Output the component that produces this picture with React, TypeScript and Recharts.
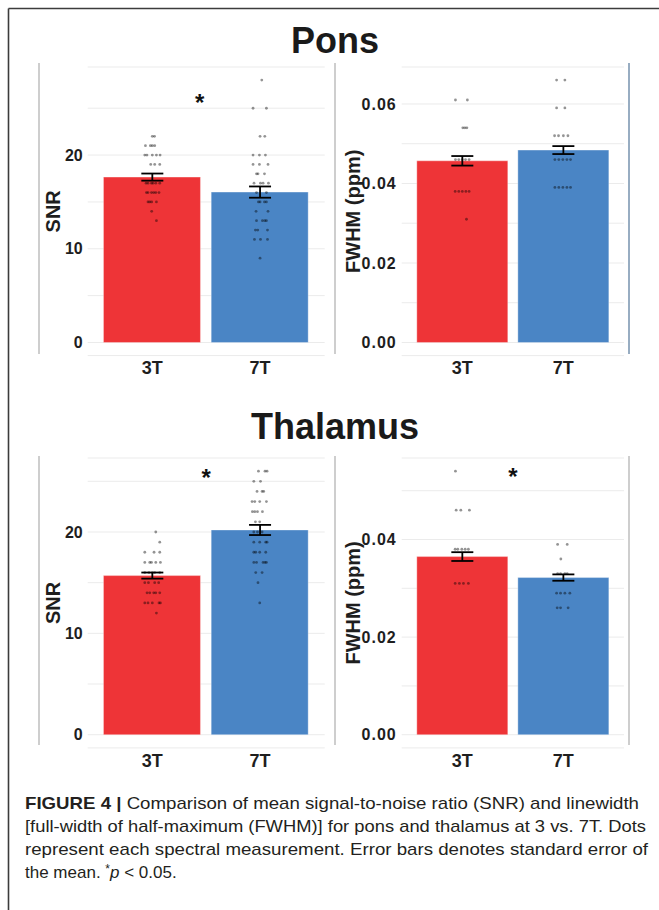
import React from 'react';
import {
  ComposedChart,
  Bar,
  Scatter,
  XAxis,
  YAxis,
  CartesianGrid,
  ErrorBar,
  ReferenceDot,
  Cell,
  Label,
} from 'recharts';

// ---------- data ----------
const groups = ['3T', '7T'];
const groupPos = [1, 2];
const barColors = ['#EE3437', '#4A85C5'];

const ponsSnrMean = [17.65, 16.05];
const ponsSnrSe = [0.38, 0.6];
const ponsFwhmMean = [0.0457, 0.0484];
const ponsFwhmSe = [0.0012, 0.001];
const thalSnrMean = [15.7, 20.2];
const thalSnrSe = [0.3, 0.5];
const thalFwhmMean = [0.0365, 0.0322];
const thalFwhmSe = [0.0009, 0.00065];

// individual measurements: [value, horizontal jitter in category units]
const ponsSnr3T: [number, number][] = [
  [22, 0], [22, 0.02],
  [21, -0.064], [21, -0.018], [21, 0], [21, 0.022],
  [20, -0.07], [20, -0.05], [20, 0], [20, 0.038], [20, 0.072],
  [19, -0.015], [19, 0.022], [19, 0.069],
  [17, -0.058], [17, -0.04], [17, -0.008], [17, 0.006], [17, 0.032], [17, 0.069],
  [16, -0.055], [16, -0.04], [16, -0.008], [16, 0.013], [16, 0.032], [16, 0.062],
  [15, -0.04], [15, -0.024], [15, -0.006], [15, 0.038],
  [14, -0.006],
  [13, 0.038],
];
const ponsSnr7T: [number, number][] = [
  [28, 0.016],
  [25, -0.065], [25, 0.059],
  [22, 0], [22, 0.044],
  [20, -0.065], [20, -0.006], [20, 0.05],
  [19, -0.065], [19, -0.006], [19, 0.074],
  [18, -0.033], [18, -0.019], [18, 0.041],
  [17, -0.056], [17, 0.004], [17, 0.028], [17, 0.078],
  [16, -0.033], [16, 0.059],
  [15, -0.015], [15, 0], [15, 0.041], [15, 0.059],
  [14, -0.037], [14, 0.074],
  [13, -0.033], [13, 0.022], [13, 0.044], [13, 0.059],
  [12, -0.043], [12, -0.021], [12, 0.069],
  [11, -0.052], [11, 0.004], [11, 0.069],
  [9, 0],
];
const ponsFwhm3T: [number, number][] = [
  [0.061, -0.068], [0.061, 0.05],
  [0.054, 0.005], [0.054, 0.025], [0.054, 0.045],
  [0.046, -0.068], [0.046, -0.035], [0.046, 0], [0.046, 0.031], [0.046, 0.067],
  [0.038, -0.071], [0.038, -0.035], [0.038, 0], [0.038, 0.035], [0.038, 0.067],
  [0.031, 0.041],
];
const ponsFwhm7T: [number, number][] = [
  [0.066, -0.067], [0.066, 0.015],
  [0.059, -0.067], [0.059, 0.015],
  [0.052, -0.087], [0.052, -0.048], [0.052, 0], [0.052, 0.045],
  [0.046, -0.084], [0.046, -0.045], [0.046, -0.005], [0.046, 0.035], [0.046, 0.071],
  [0.039, -0.084], [0.039, -0.045], [0.039, -0.005], [0.039, 0.035], [0.039, 0.071],
];
const thalSnr3T: [number, number][] = [
  [20, 0.032],
  [19, 0.069],
  [18, -0.07], [18, 0.016], [18, 0.069],
  [17, -0.07], [17, -0.024], [17, -0.008], [17, 0.032], [17, 0.075],
  [16, -0.07], [16, -0.031], [16, 0], [16, 0.022], [16, 0.069],
  [15, -0.07], [15, -0.036], [15, 0.022], [15, 0.059],
  [14, -0.049], [14, -0.024], [14, 0.013], [14, 0.032], [14, 0.069],
  [13, -0.07], [13, -0.04], [13, 0], [13, 0.062], [13, 0.075],
  [12, 0.038],
];
const thalSnr7T: [number, number][] = [
  [26, -0.015], [26, 0.046], [26, 0.065],
  [25, -0.058], [25, 0.004],
  [24, -0.028], [24, 0.019], [24, 0.034],
  [23, -0.074], [23, -0.049], [23, -0.003], [23, 0.059],
  [22, -0.071], [22, -0.049], [22, -0.024], [22, 0.022],
  [21, -0.043], [21, -0.003],
  [20, -0.058], [20, -0.024], [20, 0.019],
  [19, -0.058], [19, -0.003], [19, 0.053], [19, 0.065],
  [18, -0.058], [18, -0.04], [18, -0.003], [18, 0.053],
  [17, -0.058], [17, -0.033], [17, 0.028], [17, 0.046], [17, 0.059],
  [16, -0.04], [16, 0.019],
  [15, -0.019],
  [13, -0.003],
];
const thalFwhm3T: [number, number][] = [
  [0.054, -0.068],
  [0.046, -0.061], [0.046, -0.015], [0.046, 0.07],
  [0.038, -0.071], [0.038, -0.045], [0.038, -0.005], [0.038, 0.028], [0.038, 0.06],
  [0.031, -0.071], [0.031, -0.029], [0.031, 0.011], [0.031, 0.06],
];
const thalFwhm7T: [number, number][] = [
  [0.039, -0.057], [0.039, 0.038],
  [0.036, -0.025],
  [0.033, -0.057], [0.033, -0.028], [0.033, 0.015], [0.033, 0.038],
  [0.029, -0.067], [0.029, -0.028], [0.029, 0.015], [0.029, 0.064],
  [0.026, -0.061], [0.026, -0.028], [0.026, 0.047],
];

const snrTicksPons = [0, 5, 10, 15, 20, 25];
const snrTicksThal = [0, 5, 10, 15, 20, 25];
const fwhmTicksPons = [0, 0.01, 0.02, 0.03, 0.04, 0.05, 0.06];
const fwhmTicksThal = [0, 0.01, 0.02, 0.03, 0.04, 0.05];

const ponsSnrDomain: [number, number] = [-1.4, 29.4];
const ponsFwhmDomain: [number, number] = [-0.0033, 0.0693];
const thalSnrDomain: [number, number] = [-1.3, 27.3];
const thalFwhmDomain: [number, number] = [-0.0027, 0.0567];

// significance markers: [x position, y value] or null
const ponsSnrStar: [number, number] | null = [1.44, 25.6];
const ponsFwhmStar: [number, number] | null = null;
const thalSnrStar: [number, number] | null = [1.5, 25.4];
const thalFwhmStar: [number, number] | null = [1.5, 0.053];

const captionLines = [
  'Comparison of mean signal-to-noise ratio (SNR) and linewidth',
  '[full-width of half-maximum (FWHM)] for pons and thalamus at 3 vs. 7T. Dots',
  'represent each spectral measurement. Error bars denotes standard error of',
];

// ---------- components ----------
const FONT = '"Liberation Sans", Arial, Helvetica, sans-serif';

const fmtSnr = (v: number) => (Math.round(v) % 10 === 0 ? String(v) : '');
const fmtFwhm = (v: number) => (Math.round(v * 100) % 2 === 0 ? v.toFixed(2) : '');

type Geo = { labelX: number; plotLeft: number; plotRight: number; plotTop: number; plotBottom: number };

function Panel(props: {
  geo: Geo;
  means: number[];
  ses: number[];
  dots: [number, number][][];
  domain: [number, number];
  ticks: number[];
  fmt: (v: number) => string;
  yLabel: string;
  star: [number, number] | null;
  tickSpacing?: number;
}) {
  const { geo, means, ses, dots, domain, ticks, fmt, yLabel, star } = props;
  const divLeft = geo.labelX - 60;
  const yAxisW = 2 * (geo.plotLeft - geo.labelX);
  const mLeft = geo.plotLeft - divLeft - yAxisW;
  const divTop = geo.plotTop - 12;
  const width = geo.plotRight - divLeft + 5;
  const height = geo.plotBottom - divTop + 30;
  const unit = (geo.plotRight - geo.plotLeft) / 2.2;
  const barSize = Math.round(unit * 0.9);
  const pad = unit * 0.1;

  const barData = groups.map((g, i) => ({ g, x: groupPos[i], v: means[i], se: ses[i] }));
  const dotData = dots.flatMap((list, gi) => list.map(([v, j]) => ({ x: groupPos[gi] + j, v })));

  return (
    <div style={{ position: 'absolute', left: divLeft, top: divTop }}>
      <ComposedChart
        width={width}
        height={height}
        data={barData}
        margin={{ top: 12, right: 5, bottom: 0, left: mLeft }}
        style={{ fontFamily: FONT }}
      >
        <CartesianGrid horizontal vertical={false} stroke="#ebebeb" strokeWidth={1} xAxisId="cat" />
        <XAxis
          xAxisId="cat"
          type="category"
          dataKey="g"
          padding={{ left: pad, right: pad }}
          interval={0}
          axisLine={false}
          tickLine={false}
          tickSize={0}
          tickMargin={6}
          height={30}
          tick={{ fontSize: 18, fontWeight: 700, fill: '#1e1e1e' }}
        />
        <XAxis xAxisId="num" type="number" dataKey="x" domain={[0.4, 2.6]} hide />
        <YAxis
          type="number"
          dataKey="v"
          domain={domain}
          ticks={ticks}
          interval={0}
          tickFormatter={fmt}
          axisLine={false}
          tickLine={false}
          tickSize={0}
          tickMargin={5}
          width={yAxisW}
          tick={{ fontSize: 16, fontWeight: 700, fill: '#1e1e1e', letterSpacing: props.tickSpacing ?? 0 }}
        >
          <Label
            value={yLabel}
            angle={-90}
            position="center"
            style={{ fontSize: 20, fontWeight: 700, fill: '#1e1e1e', fontFamily: FONT }}
          />
        </YAxis>
        <Bar xAxisId="cat" dataKey="v" barSize={barSize} isAnimationActive={false} stroke="rgba(255,255,255,0.35)" strokeWidth={1}>
          {barData.map((d, i) => (
            <Cell key={i} fill={barColors[i]} />
          ))}
        </Bar>
        <Scatter
          xAxisId="num"
          data={dotData}
          dataKey="v"
          isAnimationActive={false}
          shape={(p: any) => <circle cx={p.cx} cy={p.cy} r={1.4} fill="#000" fillOpacity={0.42} />}
        />
        <Scatter xAxisId="num" data={barData} dataKey="v" isAnimationActive={false} shape={() => <g />}>
          <ErrorBar dataKey="se" direction="y" width={11} stroke="#000" strokeWidth={1.8} />
        </Scatter>
        {star && (
          <ReferenceDot
            xAxisId="num"
            x={star[0]}
            y={star[1]}
            r={0}
            fill="none"
            stroke="none"
            ifOverflow="visible"
            label={{ value: '*', position: 'center', fontSize: 24, fontWeight: 700, fill: '#111' }}
          />
        )}
      </ComposedChart>
    </div>
  );
}

const geoTL: Geo = { labelX: 53.3, plotLeft: 88, plotRight: 325, plotTop: 67.2, plotBottom: 355.8 };
const geoTR: Geo = { labelX: 353, plotLeft: 401.7, plotRight: 624, plotTop: 67.2, plotBottom: 355.8 };
const geoBL: Geo = { labelX: 53.3, plotLeft: 88, plotRight: 325, plotTop: 457.6, plotBottom: 747.5 };
const geoBR: Geo = { labelX: 353, plotLeft: 401.7, plotRight: 624, plotTop: 457.6, plotBottom: 747.5 };

export default function App() {
  return (
    <div
      style={{
        position: 'absolute',
        left: 0,
        top: 0,
        width: 659,
        height: 910,
        background: '#fff',
        overflow: 'hidden',
        fontFamily: FONT,
      }}
    >
      <svg width={659} height={910} style={{ position: 'absolute', left: 0, top: 0 }}>
        {/* frame */}
        <line x1={8.5} y1={8.5} x2={659} y2={8.5} stroke="#3c3c3c" strokeWidth={1.6} />
        <line x1={8.5} y1={8.5} x2={8.5} y2={910} stroke="#3c3c3c" strokeWidth={1.6} />
        {/* panel separators */}
        <line x1={39} y1={63} x2={39} y2={354} stroke="#b4b4b4" strokeWidth={1.3} />
        <line x1={335} y1={63} x2={335} y2={354} stroke="#b4b4b4" strokeWidth={1.3} />
        <line x1={629} y1={63} x2={629} y2={354} stroke="#98adc2" strokeWidth={2} />
        <line x1={39} y1={456} x2={39} y2={745} stroke="#b4b4b4" strokeWidth={1.3} />
        <line x1={335} y1={456} x2={335} y2={745} stroke="#b4b4b4" strokeWidth={1.3} />
        <line x1={629} y1={456} x2={629} y2={745} stroke="#b4b4b4" strokeWidth={1.3} />
        {/* titles */}
        <text x={335} y={53} textAnchor="middle" fontSize={36} fontWeight={700} fill="#1a1a1a" fontFamily={FONT}>
          Pons
        </text>
        <text x={335} y={439} textAnchor="middle" fontSize={36} fontWeight={700} fill="#1a1a1a" fontFamily={FONT}>
          Thalamus
        </text>
        {/* caption */}
        <text x={25} y={809} fontSize={17} fill="#231f20" fontFamily={FONT} textLength={614} lengthAdjust="spacingAndGlyphs">
          <tspan fontWeight={700}>FIGURE 4 | </tspan>
          {captionLines[0]}
        </text>
        <text x={25} y={832} fontSize={17} fill="#231f20" fontFamily={FONT} textLength={621} lengthAdjust="spacingAndGlyphs">
          {captionLines[1]}
        </text>
        <text x={25} y={855} fontSize={17} fill="#231f20" fontFamily={FONT} textLength={623} lengthAdjust="spacingAndGlyphs">
          {captionLines[2]}
        </text>
        <text x={25} y={878} fontSize={17} fill="#231f20" fontFamily={FONT}>
          the mean. <tspan fontSize={12} dy={-5}>*</tspan>
          <tspan fontStyle="italic" dy={5}>p</tspan> {'< 0.05.'}
        </text>
      </svg>

      <Panel geo={geoTL} means={ponsSnrMean} ses={ponsSnrSe} dots={[ponsSnr3T, ponsSnr7T]} domain={ponsSnrDomain}
        ticks={snrTicksPons} fmt={fmtSnr} yLabel="SNR" star={ponsSnrStar} />
      <Panel geo={geoTR} means={ponsFwhmMean} ses={ponsFwhmSe} dots={[ponsFwhm3T, ponsFwhm7T]} domain={ponsFwhmDomain}
        ticks={fwhmTicksPons} fmt={fmtFwhm} yLabel="FWHM (ppm)" star={ponsFwhmStar} tickSpacing={1} />
      <Panel geo={geoBL} means={thalSnrMean} ses={thalSnrSe} dots={[thalSnr3T, thalSnr7T]} domain={thalSnrDomain}
        ticks={snrTicksThal} fmt={fmtSnr} yLabel="SNR" star={thalSnrStar} />
      <Panel geo={geoBR} means={thalFwhmMean} ses={thalFwhmSe} dots={[thalFwhm3T, thalFwhm7T]} domain={thalFwhmDomain}
        ticks={fwhmTicksThal} fmt={fmtFwhm} yLabel="FWHM (ppm)" star={thalFwhmStar} tickSpacing={1} />
    </div>
  );
}
